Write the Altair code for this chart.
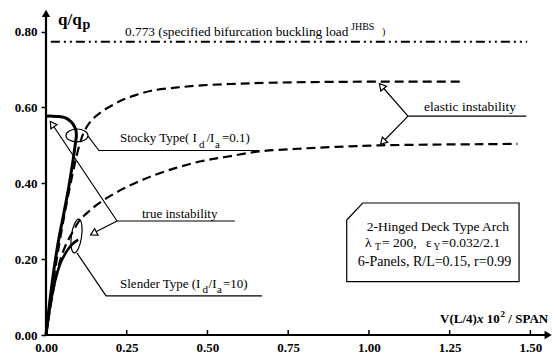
import altair as alt
import pandas as pd

# ---------------- data ----------------
x_ticks = [0.00, 0.25, 0.50, 0.75, 1.00, 1.25, 1.50]
y_ticks = [0.00, 0.20, 0.40, 0.60, 0.80]

# Stocky type, true instability (solid, thick)
stocky_x = [0.000, 0.012, 0.025, 0.040, 0.055, 0.069, 0.082, 0.091, 0.094, 0.093, 0.089, 0.080, 0.069, 0.058, 0.040, 0.020, 0.003]
stocky_y = [0.000, 0.090, 0.175, 0.255, 0.320, 0.383, 0.450, 0.505, 0.525, 0.538, 0.548, 0.560, 0.568, 0.573, 0.576, 0.577, 0.577]

# Slender type, true instability (solid)
slender_x = [0.000, 0.010, 0.020, 0.032, 0.045, 0.058, 0.070, 0.082, 0.092, 0.100]
slender_y = [0.000, 0.060, 0.110, 0.155, 0.190, 0.212, 0.228, 0.240, 0.247, 0.251]

# Stocky type, elastic instability (dashed)
upper_x = [0.000, 0.020, 0.040, 0.060, 0.075, 0.090, 0.105, 0.118, 0.140, 0.171, 0.210, 0.243, 0.280, 0.326, 0.400, 0.480, 0.580, 0.690, 0.850, 1.034, 1.150, 1.285]
upper_y = [0.000, 0.125, 0.235, 0.330, 0.395, 0.455, 0.505, 0.536, 0.565, 0.588, 0.608, 0.622, 0.633, 0.644, 0.652, 0.658, 0.662, 0.665, 0.667, 0.668, 0.668, 0.668]

# Slender type, elastic instability (dashed)
lower_x = [0.000, 0.020, 0.040, 0.060, 0.075, 0.088, 0.098, 0.110, 0.130, 0.160, 0.198, 0.240, 0.280, 0.325, 0.400, 0.480, 0.560, 0.663, 0.780, 0.900, 1.034, 1.200, 1.350, 1.460]
lower_y = [0.000, 0.105, 0.185, 0.235, 0.260, 0.280, 0.295, 0.308, 0.324, 0.345, 0.366, 0.386, 0.402, 0.418, 0.440, 0.458, 0.470, 0.484, 0.491, 0.496, 0.500, 0.502, 0.503, 0.504]

# specified bifurcation buckling load
bif_load = 0.773
bif_x = [0.015, 1.49]

# ---------------- annotation geometry (data units) ----------------
leader_groups = {
    "true_top": ([0.0245, 0.220, 0.585], [0.549, 0.3006, 0.3006]),
    "true_low": ([0.155, 0.220], [0.272, 0.3006]),
    "elastic_top": ([1.0455, 1.121, 1.487], [0.6505, 0.577, 0.577]),
    "elastic_low": ([1.049, 1.121], [0.514, 0.577]),
    "stocky": ([0.130, 0.164, 0.660], [0.524, 0.4864, 0.4864]),
    "slender": ([0.096, 0.186, 0.669], [0.216, 0.103, 0.103]),
    "box": ([0.9312, 0.9808, 1.4649, 1.4649, 0.9312, 0.9312], [0.3032, 0.348, 0.348, 0.1405, 0.1405, 0.3032]),
}
arrow_x = [0.019, 0.147, 1.039, 1.043]
arrow_y = [0.556, 0.268, 0.656, 0.509]
arrow_angle = [326, 242.6, 319, 224]

reg_text = ["0.773 (specified bifurcation buckling load", "JHBS", ")",
            "Stocky Type( I", "d", "/I", "a", "=0.1)",
            "Slender Type (I", "d", "/I", "a", "=10)",
            "true instability", "elastic instability",
            "2-Hinged Deck Type Arch",
            "λ", "T", "= 200,", "ε", "Y", "=0.032/2.1",
            "6-Panels, R/L=0.15, r=0.99"]
reg_x = [0.2447, 0.9446, 1.0406,
         0.2292, 0.4738, 0.4970, 0.5234, 0.5450,
         0.2292, 0.4847, 0.5033, 0.5296, 0.5482,
         0.2973, 1.1706,
         0.9931,
         0.9880, 1.0189, 1.0406, 1.1768, 1.2001, 1.2248,
         0.9653]
reg_y = [0.788, 0.8054, 0.791,
         0.508, 0.493, 0.508, 0.493, 0.508,
         0.1252, 0.1107, 0.1252, 0.1107, 0.1252,
         0.3085, 0.5906,
         0.2729,
         0.2333, 0.2228, 0.2333, 0.2333, 0.2228, 0.2333,
         0.1819]
reg_fs = [13.3, 10, 10,
          13, 11, 13, 11, 13,
          13, 11, 13, 11, 13,
          13, 13.5,
          13.5,
          13.5, 9.5, 13.5, 13.5, 9.5, 13.5,
          14]

bold_text = ["q/q", "p", "V(L/4)", "10", "2", "/ SPAN"]
bold_x = [0.0372, 0.1130, 1.2202, 1.3650, 1.4076, 1.4317]
bold_y = [0.8173, 0.8068, 0.0316, 0.0316, 0.0475, 0.0316]
bold_fs = [17, 14, 13, 13, 9, 13]
ital_text = ["x"]
ital_x = [1.3348]
ital_y = [0.0316]

# ---------------- chart ----------------
FONT = "Liberation Serif"
XS = alt.Scale(domain=[0, 1.57], nice=False, zero=False)
YS = alt.Scale(domain=[0, 0.87], nice=False, zero=False)
x_axis = alt.Axis(values=x_ticks, format=".2f", domain=False, ticks=False, tickSize=0,
                  labelPadding=6, grid=False, title=None, labelFont=FONT, labelFlush=False,
                  labelOverlap=False,
                  labelFontWeight="bold", labelFontSize=13, labelColor="black")
y_axis = alt.Axis(values=y_ticks, format=".2f", domain=False, ticks=True, tickSize=5,
                  tickWidth=1.5, tickColor="black", labelPadding=4, grid=False, title=None,
                  labelFlush=False, labelOverlap=False,
                  labelFont=FONT, labelFontWeight="bold", labelFontSize=13, labelColor="black")


def X(f="x"):
    return alt.X(f"{f}:Q", scale=XS, axis=x_axis)


def Y(f="y"):
    return alt.Y(f"{f}:Q", scale=YS, axis=y_axis)


def curve_df(xs, ys):
    return pd.DataFrame({"x": xs, "y": ys, "i": list(range(len(xs)))})


def curve(xs, ys, width, dash=None):
    kw = dict(color="black", strokeWidth=width, interpolate="catmull-rom")
    if dash:
        kw["strokeDash"] = dash
    return alt.Chart(curve_df(xs, ys)).mark_line(**kw).encode(x=X(), y=Y(), order="i:Q")


stocky = curve(stocky_x, stocky_y, 3)
slender = curve(slender_x, slender_y, 2.6)
upper = curve(upper_x, upper_y, 2.2, [9, 5])
lower = curve(lower_x, lower_y, 2.2, [9, 5])
bif = alt.Chart(pd.DataFrame({"x": bif_x, "y": [bif_load] * len(bif_x), "i": [0, 1]})).mark_line(
    color="black", strokeWidth=2, strokeDash=[9, 4, 2, 4, 2, 4]).encode(x=X(), y=Y(), order="i:Q")

# axes lines with arrowheads
axis_df = pd.DataFrame({"x": [0, 1.548, 0, 0], "y": [0, 0, 0, 0.843], "g": ["h", "h", "v", "v"], "i": [0, 1, 0, 1]})
axes = alt.Chart(axis_df).mark_line(color="black", strokeWidth=2.2).encode(
    x=X(), y=Y(), detail="g:N", order="i:Q")
heads = alt.Chart(pd.DataFrame({"x": [1.555, 0], "y": [0, 0.848], "s": ["triangle-right", "triangle-up"]})).mark_point(
    filled=True, color="black", size=70, opacity=1).encode(
    x=X(), y=Y(), shape=alt.Shape("s:N", scale=None))
xt = alt.Chart(pd.DataFrame({"x": x_ticks, "y": [0] * len(x_ticks), "y2": [0.013] * len(x_ticks)})).mark_rule(
    color="black", strokeWidth=1.5).encode(x=X(), y=Y(), y2="y2:Q")

# leader lines
rows = []
for g, (gx, gy) in leader_groups.items():
    for k, (a, b) in enumerate(zip(gx, gy)):
        rows.append({"x": a, "y": b, "g": g, "i": k})
leaders = alt.Chart(pd.DataFrame(rows)).mark_line(color="black", strokeWidth=1.2).encode(
    x=X(), y=Y(), detail="g:N", order="i:Q")

arrows = alt.Chart(pd.DataFrame({"x": arrow_x, "y": arrow_y, "a": arrow_angle})).mark_point(
    shape="triangle-up", filled=False, color="black", strokeWidth=1.2, size=55, opacity=1).encode(
    x=X(), y=Y(), angle=alt.Angle("a:Q", scale=None))

ell1 = alt.Chart(pd.DataFrame({"x": [0.096], "y": [0.526]})).mark_point(
    shape="M-1,0 A1,0.59 0 1,1 1,0 A1,0.59 0 1,1 -1,0 Z", filled=False, color="black",
    strokeWidth=1.2, size=484, opacity=1).encode(x=X(), y=Y())
ell2 = alt.Chart(pd.DataFrame({"x": [0.0945], "y": [0.261]})).mark_point(
    shape="M0,-1 A0.3,1 0 1,1 0,1 A0.3,1 0 1,1 0,-1 Z", filled=False, color="black",
    strokeWidth=1.2, size=1156, opacity=1, angle=8).encode(x=X(), y=Y())

texts = alt.Chart(pd.DataFrame({"x": reg_x, "y": reg_y, "t": reg_text, "fs": reg_fs})).mark_text(
    align="left", baseline="alphabetic", font=FONT, color="black").encode(
    x=X(), y=Y(), text="t:N", size=alt.Size("fs:Q", scale=None))
btexts = alt.Chart(pd.DataFrame({"x": bold_x, "y": bold_y, "t": bold_text, "fs": bold_fs})).mark_text(
    align="left", baseline="alphabetic", font=FONT, fontWeight="bold", color="black").encode(
    x=X(), y=Y(), text="t:N", size=alt.Size("fs:Q", scale=None))
itexts = alt.Chart(pd.DataFrame({"x": ital_x, "y": ital_y, "t": ital_text})).mark_text(
    align="left", baseline="alphabetic", font=FONT, fontWeight="bold", fontStyle="italic",
    fontSize=13, color="black").encode(x=X(), y=Y(), text="t:N")

chart = alt.layer(
    axes, heads, xt, bif, upper, lower, stocky, slender,
    leaders, arrows, ell1, ell2, texts, btexts, itexts
).properties(
    width=507, height=330,
    autosize=alt.AutoSizeParams(type="none"),
    padding={"left": 46, "top": 5, "right": 3, "bottom": 21},
    background="white",
).configure_view(stroke=None)

chart.save("out.html", embed_options={"renderer": "svg", "actions": False})
